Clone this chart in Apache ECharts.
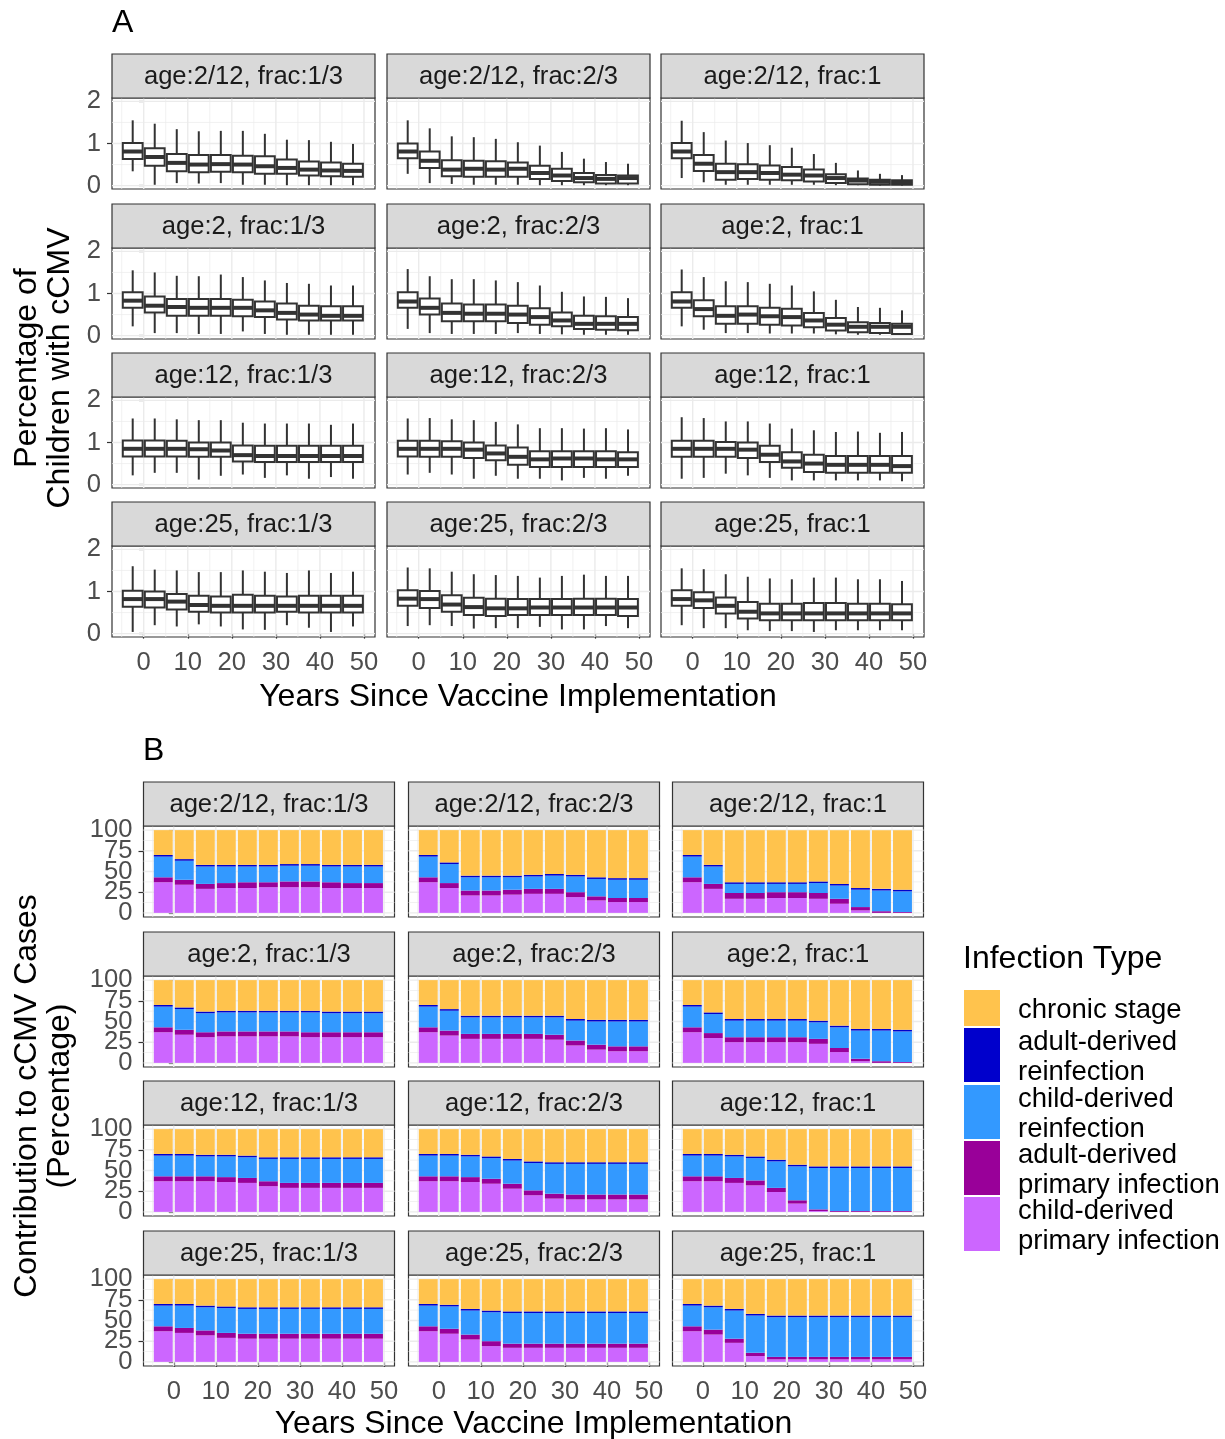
<!DOCTYPE html>
<html><head><meta charset="utf-8">
<script src="https://cdn.jsdelivr.net/npm/echarts@6/dist/echarts.min.js"></script>
<style>html,body{margin:0;padding:0;background:#fff}#c{width:1225px;height:1439px}</style>
</head><body><div id="c"></div><script>
// ---------- DATA ----------
const yearBins = [-2.5, 2.5, 7.5, 12.5, 17.5, 22.5, 27.5, 32.5, 37.5, 42.5, 47.5];
const xTickValues = [0, 10, 20, 30, 40, 50];
const xMinorValues = [-5, 5, 15, 25, 35, 45];
const yTicksA = [0, 1, 2];
const yMinorA = [0.5, 1.5];
const yTicksB = [0, 25, 50, 75, 100];
const yMinorB = [12.5, 37.5, 62.5, 87.5];
const panelLabels = [
  'age:2/12, frac:1/3', 'age:2/12, frac:2/3', 'age:2/12, frac:1',
  'age:2, frac:1/3', 'age:2, frac:2/3', 'age:2, frac:1',
  'age:12, frac:1/3', 'age:12, frac:2/3', 'age:12, frac:1',
  'age:25, frac:1/3', 'age:25, frac:2/3', 'age:25, frac:1'
];
// Panel A: box plot statistics (percentage of children with cCMV)
const boxMax = [
  [1.55,1.47,1.34,1.29,1.30,1.30,1.23,1.09,1.08,1.04,0.99],
  [1.55,1.36,1.17,1.15,1.11,1.03,0.95,0.80,0.64,0.56,0.52],
  [1.54,1.27,1.07,1.01,0.96,0.90,0.75,0.54,0.36,0.28,0.25],
  [1.55,1.50,1.42,1.41,1.45,1.39,1.31,1.25,1.23,1.19,1.19],
  [1.58,1.41,1.34,1.34,1.31,1.27,1.19,1.04,0.93,0.92,0.89],
  [1.57,1.39,1.29,1.27,1.23,1.19,1.05,0.85,0.68,0.66,0.60],
  [1.57,1.57,1.55,1.53,1.53,1.47,1.45,1.45,1.45,1.42,1.45],
  [1.57,1.58,1.55,1.53,1.49,1.43,1.34,1.34,1.33,1.34,1.31],
  [1.60,1.58,1.50,1.50,1.45,1.33,1.29,1.25,1.26,1.23,1.25],
  [1.60,1.52,1.50,1.46,1.46,1.50,1.47,1.44,1.50,1.44,1.47],
  [1.57,1.55,1.47,1.41,1.39,1.37,1.33,1.37,1.40,1.37,1.37],
  [1.55,1.53,1.41,1.35,1.31,1.29,1.33,1.33,1.29,1.29,1.25]
];
const boxQ3 = [
  [1.01,0.89,0.75,0.73,0.73,0.71,0.70,0.62,0.57,0.55,0.52],
  [1.00,0.81,0.60,0.59,0.58,0.55,0.47,0.40,0.30,0.25,0.24],
  [1.01,0.73,0.52,0.51,0.48,0.44,0.38,0.27,0.17,0.14,0.13],
  [1.03,0.93,0.87,0.87,0.87,0.85,0.81,0.76,0.71,0.70,0.70],
  [1.03,0.88,0.76,0.74,0.74,0.71,0.65,0.55,0.47,0.46,0.44],
  [1.03,0.84,0.70,0.70,0.66,0.64,0.54,0.42,0.32,0.30,0.28],
  [1.05,1.05,1.04,1.00,1.00,0.93,0.92,0.92,0.92,0.92,0.92],
  [1.04,1.04,1.03,1.00,0.93,0.88,0.79,0.79,0.79,0.79,0.77],
  [1.04,1.04,1.01,1.00,0.92,0.77,0.71,0.68,0.68,0.68,0.68],
  [1.02,1.00,0.94,0.90,0.88,0.92,0.90,0.88,0.90,0.90,0.90],
  [1.03,1.01,0.91,0.85,0.83,0.82,0.82,0.82,0.83,0.83,0.82],
  [1.03,0.98,0.86,0.75,0.71,0.71,0.73,0.73,0.71,0.71,0.70]
];
const boxMedian = [
  [0.81,0.68,0.54,0.50,0.51,0.50,0.46,0.42,0.38,0.36,0.35],
  [0.81,0.59,0.38,0.40,0.38,0.40,0.30,0.24,0.18,0.16,0.18],
  [0.81,0.52,0.32,0.32,0.30,0.26,0.24,0.18,0.12,0.09,0.08],
  [0.83,0.71,0.68,0.66,0.66,0.66,0.60,0.54,0.50,0.47,0.47],
  [0.81,0.66,0.54,0.52,0.52,0.50,0.44,0.36,0.28,0.28,0.28],
  [0.81,0.63,0.47,0.50,0.46,0.44,0.36,0.26,0.21,0.21,0.21],
  [0.85,0.85,0.85,0.84,0.81,0.70,0.68,0.68,0.68,0.68,0.68],
  [0.85,0.85,0.85,0.83,0.74,0.66,0.60,0.62,0.62,0.60,0.60],
  [0.85,0.85,0.85,0.83,0.71,0.55,0.50,0.47,0.47,0.47,0.44],
  [0.82,0.82,0.76,0.68,0.66,0.66,0.66,0.66,0.66,0.66,0.66],
  [0.83,0.82,0.69,0.63,0.60,0.60,0.62,0.62,0.62,0.62,0.62],
  [0.82,0.79,0.66,0.52,0.48,0.48,0.48,0.48,0.48,0.48,0.48]
];
const boxQ1 = [
  [0.63,0.47,0.34,0.32,0.33,0.32,0.28,0.28,0.24,0.22,0.21],
  [0.65,0.42,0.22,0.21,0.21,0.21,0.16,0.11,0.08,0.05,0.05],
  [0.65,0.35,0.14,0.16,0.14,0.13,0.10,0.06,0.03,0.02,0.02],
  [0.66,0.55,0.47,0.47,0.47,0.46,0.44,0.38,0.36,0.36,0.36],
  [0.66,0.50,0.34,0.34,0.34,0.30,0.26,0.22,0.16,0.14,0.13],
  [0.66,0.46,0.28,0.28,0.26,0.24,0.20,0.12,0.08,0.06,0.04],
  [0.67,0.67,0.67,0.66,0.66,0.55,0.54,0.54,0.54,0.54,0.54],
  [0.67,0.66,0.66,0.63,0.58,0.47,0.42,0.42,0.42,0.42,0.42],
  [0.66,0.66,0.66,0.63,0.54,0.40,0.30,0.28,0.28,0.28,0.28],
  [0.64,0.62,0.57,0.52,0.50,0.50,0.50,0.52,0.50,0.50,0.50],
  [0.66,0.61,0.52,0.44,0.42,0.44,0.44,0.44,0.44,0.44,0.42],
  [0.66,0.61,0.48,0.36,0.32,0.32,0.32,0.32,0.32,0.32,0.32]
];
const boxMin = [
  [0.34,0.02,0.06,0.05,0.06,0.02,0.02,0.01,0.01,0.01,0.01],
  [0.28,0.06,0.04,0.02,0.02,0.02,0.01,0.01,0.01,0.01,0.01],
  [0.18,0.08,0.02,0.02,0.02,0.02,0.02,0.01,0.01,0.00,0.00],
  [0.22,0.06,0.06,0.04,0.04,0.10,0.04,0.02,0.02,0.02,0.02],
  [0.16,0.06,0.04,0.04,0.04,0.06,0.04,0.03,0.02,0.02,0.02],
  [0.22,0.14,0.06,0.06,0.05,0.05,0.05,0.03,0.02,0.02,0.02],
  [0.22,0.28,0.28,0.12,0.21,0.24,0.16,0.22,0.14,0.18,0.14],
  [0.24,0.28,0.24,0.14,0.21,0.14,0.14,0.10,0.16,0.14,0.21],
  [0.14,0.16,0.26,0.22,0.16,0.10,0.10,0.10,0.10,0.10,0.08],
  [0.04,0.20,0.17,0.22,0.17,0.10,0.09,0.20,0.14,0.04,0.17],
  [0.18,0.20,0.18,0.12,0.13,0.13,0.16,0.10,0.10,0.18,0.13],
  [0.20,0.13,0.13,0.08,0.06,0.06,0.04,0.08,0.08,0.08,0.08]
];
// Panel B: contribution to cCMV cases (percentage), stacked bottom -> top
const childPrimary = [
  [37,34,29,30,30,31,31,31,30,30,30],
  [37,30,21,21,22,23,23,19,15,13,13],
  [37,29,17,17,18,18,17,11,3,0,0],
  [37,34,31,32,32,32,32,31,31,31,31],
  [37,33,29,29,29,29,28,21,16,14,14],
  [37,30,25,25,25,25,23,13,2,0,0],
  [37,37,37,36,35,31,29,29,29,29,29],
  [37,37,36,34,28,20,16,15,15,15,15],
  [37,37,35,32,24,10,1,0,0,0,0],
  [37,35,32,29,28,28,28,28,28,28,28],
  [37,34,27,19,17,17,17,17,17,17,17],
  [37,33,23,7,3,3,3,3,3,3,3]
];
const adultPrimary = [
  [6,6,6,6,7,6,7,7,7,6,6],
  [6,6,6,6,6,6,6,6,5,5,5],
  [6,6,7,7,7,7,7,6,4,2,1],
  [6,6,6,6,6,6,6,6,6,6,6],
  [6,6,6,6,6,6,6,6,6,6,6],
  [6,6,6,6,6,6,6,5,3,2,1],
  [6,6,6,6,6,6,6,6,6,6,6],
  [6,6,6,6,6,6,6,6,6,6,6],
  [6,6,6,6,5,4,2,1,1,1,1],
  [6,6,6,6,6,6,6,6,6,6,6],
  [6,6,6,6,5,5,5,5,5,5,5],
  [6,6,5,4,3,3,3,3,3,3,3]
];
const childReinfection = [
  [25,23,21,20,19,19,19,19,19,20,20],
  [25,23,16,16,15,15,16,19,21,22,22],
  [25,21,11,11,10,10,12,16,21,25,25],
  [25,25,23,23,23,23,23,24,23,23,23],
  [25,24,20,20,20,20,21,24,28,30,30],
  [25,23,20,20,20,20,20,25,34,37,37],
  [25,25,24,25,25,27,29,29,29,29,29],
  [25,25,25,25,28,33,36,37,37,37,37],
  [25,25,26,27,32,41,50,52,52,52,52],
  [25,27,28,30,30,30,30,30,30,30,30],
  [25,27,29,35,37,37,37,37,37,37,37],
  [25,27,34,45,48,48,48,48,48,48,48]
];
const adultReinfection = [
  [2,2,2,2,2,2,2,2,2,2,2],[2,2,2,2,2,2,2,2,2,2,2],[2,2,2,2,2,2,2,2,2,2,2],
  [2,2,2,2,2,2,2,2,2,2,2],[2,2,2,2,2,2,2,2,2,2,2],[2,2,2,2,2,2,2,2,2,2,2],
  [2,2,2,2,2,2,2,2,2,2,2],[2,2,2,2,2,2,2,2,2,2,2],[2,2,2,2,2,2,2,2,2,2,2],
  [2,2,2,2,2,2,2,2,2,2,2],[2,2,2,2,2,2,2,2,2,2,2],[2,2,2,2,2,2,2,2,2,2,2]
];
const chronicStage = [
  [30,35,42,42,42,42,41,41,42,42,42],
  [30,39,55,55,55,54,53,54,57,58,58],
  [30,42,63,63,63,63,62,65,70,71,72],
  [30,33,38,37,37,37,37,37,38,38,38],
  [30,35,43,43,43,43,43,47,48,48,48],
  [30,39,47,47,47,47,49,55,59,59,60],
  [30,30,31,31,32,34,34,34,34,34,34],
  [30,30,31,33,36,39,40,40,40,40,40],
  [30,30,31,33,37,43,45,45,45,45,45],
  [30,30,32,33,34,34,34,34,34,34,34],
  [30,31,36,38,39,39,39,39,39,39,39],
  [30,32,36,42,44,44,44,44,44,44,44]
];
const infectionTypes = ['child-derived primary infection', 'adult-derived primary infection',
  'child-derived reinfection', 'adult-derived reinfection', 'chronic stage'];
const infectionValues = [childPrimary, adultPrimary, childReinfection, adultReinfection, chronicStage];
const infectionColors = ['#CC66FF', '#990099', '#3399FF', '#0000CC', '#FFC34D'];
const legendLabels = ['chronic stage', 'adult-derived\nreinfection', 'child-derived\nreinfection',
  'adult-derived\nprimary infection', 'child-derived\nprimary infection'];
const legendColors = ['#FFC34D', '#0000CC', '#3399FF', '#990099', '#CC66FF'];

// ---------- LAYOUT ----------
const FONT = '"Liberation Sans", Arial, sans-serif';
const X_MIN = -7.2, X_MAX = 52.5, HALF_W = 2.25;
const SMALL = 25.6, BIG = 32, LEG = 27.5;
const layoutA = {lefts:[112,387,661], width:263, tops:[98,248,397,546], height:91, yMin:-0.08, yMax:2.08, yTicks:yTicksA, yMinor:yMinorA};
const layoutB = {lefts:[143.5,408.5,672.5], width:251, tops:[826,976,1125,1275], height:91, yMin:-5, yMax:105, yTicks:yTicksB, yMinor:yMinorB};
const STRIP_H = 44;

const grids = [], xAxes = [], yAxes = [], series = [], graphics = [];

function gridRender(params, api) {
  const cs = params.coordSys;
  const dir = api.value(0), v = api.value(1), major = api.value(2);
  const lw = major ? 1.4 : 0.7;
  if (dir === 0) {
    const x = api.coord([v, 0])[0];
    return {type:'line', shape:{x1:x, y1:cs.y, x2:x, y2:cs.y + cs.height}, style:{stroke:'#EBEBEB', lineWidth:lw}};
  }
  const y = api.coord([0, v])[1];
  return {type:'line', shape:{x1:cs.x, y1:y, x2:cs.x + cs.width, y2:y}, style:{stroke:'#EBEBEB', lineWidth:lw}};
}

function yAxisDef(idx, L, values, show) {
  return {gridIndex:idx, type:'value', min:L.yMin, max:L.yMax, position:'left', offset:0,
    axisLine:{show:false}, splitLine:{show:false},
    axisTick:{show:show, length:5, customValues:values, lineStyle:{color:'#333', width:1.2}},
    axisLabel:{show:show, customValues:values, showMinLabel:true, showMaxLabel:true, hideOverlap:false,
      fontSize:SMALL, fontFamily:FONT, color:'#4D4D4D', margin:11, lineHeight:8, padding:[5,0,0,0]}};
}

// returns [gridIndex, yAxisIndex]
function addPanel(L, r, c, p) {
  const idx = grids.length;
  const left = L.lefts[c], top = L.tops[r];
  grids.push({left:left, top:top, width:L.width, height:L.height, show:true, backgroundColor:'#fff',
    borderColor:'#333333', borderWidth:1.2, containLabel:false});
  const showX = r === 3, showY = c === 0;
  xAxes.push({gridIndex:idx, type:'value', min:X_MIN, max:X_MAX,
    axisLine:{show:false}, splitLine:{show:false},
    axisTick:{show:showX, length:5, customValues:xTickValues, lineStyle:{color:'#333', width:1.2}},
    axisLabel:{show:showX, customValues:xTickValues, showMinLabel:true, showMaxLabel:true, hideOverlap:false,
      fontSize:SMALL, fontFamily:FONT, color:'#4D4D4D', margin:13}});
  const yIdx = yAxes.length;
  // alternate tick labels on two overlapping axes so crowded labels are all kept
  const even = L.yTicks.filter((v, i) => i % 2 === 0);
  const odd = L.yTicks.filter((v, i) => i % 2 === 1);
  yAxes.push(yAxisDef(idx, L, even, showY));
  yAxes.push(yAxisDef(idx, L, odd, showY));
  const gl = [];
  xTickValues.forEach(v => gl.push([0, v, 1]));
  xMinorValues.forEach(v => gl.push([0, v, 0]));
  L.yTicks.forEach(v => gl.push([1, v, 1]));
  L.yMinor.forEach(v => gl.push([1, v, 0]));
  series.push({type:'custom', xAxisIndex:idx, yAxisIndex:yIdx, z:1, silent:true, clip:false,
    data:gl, renderItem:gridRender, animation:false});
  graphics.push({type:'rect', shape:{x:left, y:top - STRIP_H, width:L.width, height:STRIP_H},
    style:{fill:'#D9D9D9', stroke:'#333333', lineWidth:1.2}, z:10});
  graphics.push({type:'text', x:left + L.width / 2, y:top - STRIP_H / 2 + 1,
    style:{text:panelLabels[p], font:SMALL + 'px ' + FONT, fill:'#1A1A1A', align:'center', verticalAlign:'middle', textAlign:'center', textVerticalAlign:'middle'}, z:11});
  return [idx, yIdx];
}

// Panel A: box plots
for (let p = 0; p < 12; p++) {
  const r = Math.floor(p / 3), c = p % 3;
  const [idx, yIdx] = addPanel(layoutA, r, c, p);
  const data = yearBins.map((x, k) => [x, boxMin[p][k], boxQ1[p][k], boxMedian[p][k], boxQ3[p][k], boxMax[p][k]]);
  series.push({type:'custom', name:'box', xAxisIndex:idx, yAxisIndex:yIdx, z:3, animation:false,
    encode:{x:0, y:[1,2,3,4,5]}, data:data,
    renderItem:function (params, api) {
      const x = api.value(0);
      const pMin = api.coord([x, api.value(1)]), pQ1 = api.coord([x, api.value(2)]);
      const pMed = api.coord([x, api.value(3)]), pQ3 = api.coord([x, api.value(4)]);
      const pMax = api.coord([x, api.value(5)]);
      const xl = api.coord([x - HALF_W, 0])[0], xr = api.coord([x + HALF_W, 0])[0];
      const st = {stroke:'#333333', lineWidth:2, fill:null};
      return {type:'group', children:[
        {type:'line', shape:{x1:pMax[0], y1:pMax[1], x2:pQ3[0], y2:pQ3[1]}, style:st},
        {type:'line', shape:{x1:pQ1[0], y1:pQ1[1], x2:pMin[0], y2:pMin[1]}, style:st},
        {type:'rect', shape:{x:xl, y:pQ3[1], width:xr - xl, height:pQ1[1] - pQ3[1]}, style:{fill:'#fff', stroke:'#333333', lineWidth:2}},
        {type:'line', shape:{x1:xl, y1:pMed[1], x2:xr, y2:pMed[1]}, style:{stroke:'#333333', lineWidth:4}}
      ]};
    }});
}

// Panel B: stacked bars
for (let p = 0; p < 12; p++) {
  const r = Math.floor(p / 3), c = p % 3;
  const [idx, yIdx] = addPanel(layoutB, r, c, p);
  const base = yearBins.map(() => 0);
  infectionTypes.forEach((name, t) => {
    const vals = infectionValues[t][p];
    const data = yearBins.map((x, k) => { const d = [x, base[k], base[k] + vals[k]]; base[k] += vals[k]; return d; });
    series.push({type:'custom', name:name, xAxisIndex:idx, yAxisIndex:yIdx, z:3, animation:false,
      encode:{x:0, y:[1,2]}, data:data, itemStyle:{color:infectionColors[t]},
      renderItem:function (params, api) {
        const x = api.value(0);
        const a = api.coord([x - HALF_W, api.value(2)]);
        const b = api.coord([x + HALF_W, api.value(1)]);
        return {type:'rect', shape:{x:a[0], y:a[1], width:b[0] - a[0], height:b[1] - a[1]},
          style:{fill:infectionColors[t]}};
      }});
  });
}

// Titles and tags
const midStyle = {fill:'#000', verticalAlign:'middle', textVerticalAlign:'middle'};
graphics.push({type:'text', x:112, y:23, style:Object.assign({text:'A', font:BIG + 'px ' + FONT, align:'left', textAlign:'left'}, midStyle)});
graphics.push({type:'text', x:143, y:751, style:Object.assign({text:'B', font:BIG + 'px ' + FONT, align:'left', textAlign:'left'}, midStyle)});
graphics.push({type:'text', x:44, y:368, rotation:Math.PI / 2,
  style:Object.assign({text:'Percentage of\nChildren with cCMV', font:BIG + 'px ' + FONT, lineHeight:33, align:'center', textAlign:'center'}, midStyle)});
graphics.push({type:'text', x:44, y:1096, rotation:Math.PI / 2,
  style:Object.assign({text:'Contribution to cCMV Cases\n(Percentage)', font:BIG + 'px ' + FONT, lineHeight:33, align:'center', textAlign:'center'}, midStyle)});
graphics.push({type:'text', x:518, y:697, style:Object.assign({text:'Years Since Vaccine Implementation', font:BIG + 'px ' + FONT, align:'center', textAlign:'center'}, midStyle)});
graphics.push({type:'text', x:533.5, y:1424, style:Object.assign({text:'Years Since Vaccine Implementation', font:BIG + 'px ' + FONT, align:'center', textAlign:'center'}, midStyle)});

// Legend
graphics.push({type:'text', x:963, y:959, style:Object.assign({text:'Infection Type', font:BIG + 'px ' + FONT, align:'left', textAlign:'left'}, midStyle)});
const keyTops = [990, 1028, 1085, 1141, 1197];
const keyHeights = [36, 54, 54, 54, 54];
legendLabels.forEach((lab, i) => {
  graphics.push({type:'rect', shape:{x:964, y:keyTops[i], width:36, height:keyHeights[i]}, style:{fill:legendColors[i]}});
  graphics.push({type:'text', x:1018, y:keyTops[i] + keyHeights[i] / 2 + 2,
    style:Object.assign({text:lab, font:LEG + 'px ' + FONT, lineHeight:30, align:'left', textAlign:'left'}, midStyle)});
});

const chart = echarts.init(document.getElementById('c'), null, {renderer:'canvas', width:1225, height:1439});
chart.setOption({
  animation:false,
  backgroundColor:'#fff',
  grid:grids, xAxis:xAxes, yAxis:yAxes, series:series, graphic:graphics
});
</script></body></html>
